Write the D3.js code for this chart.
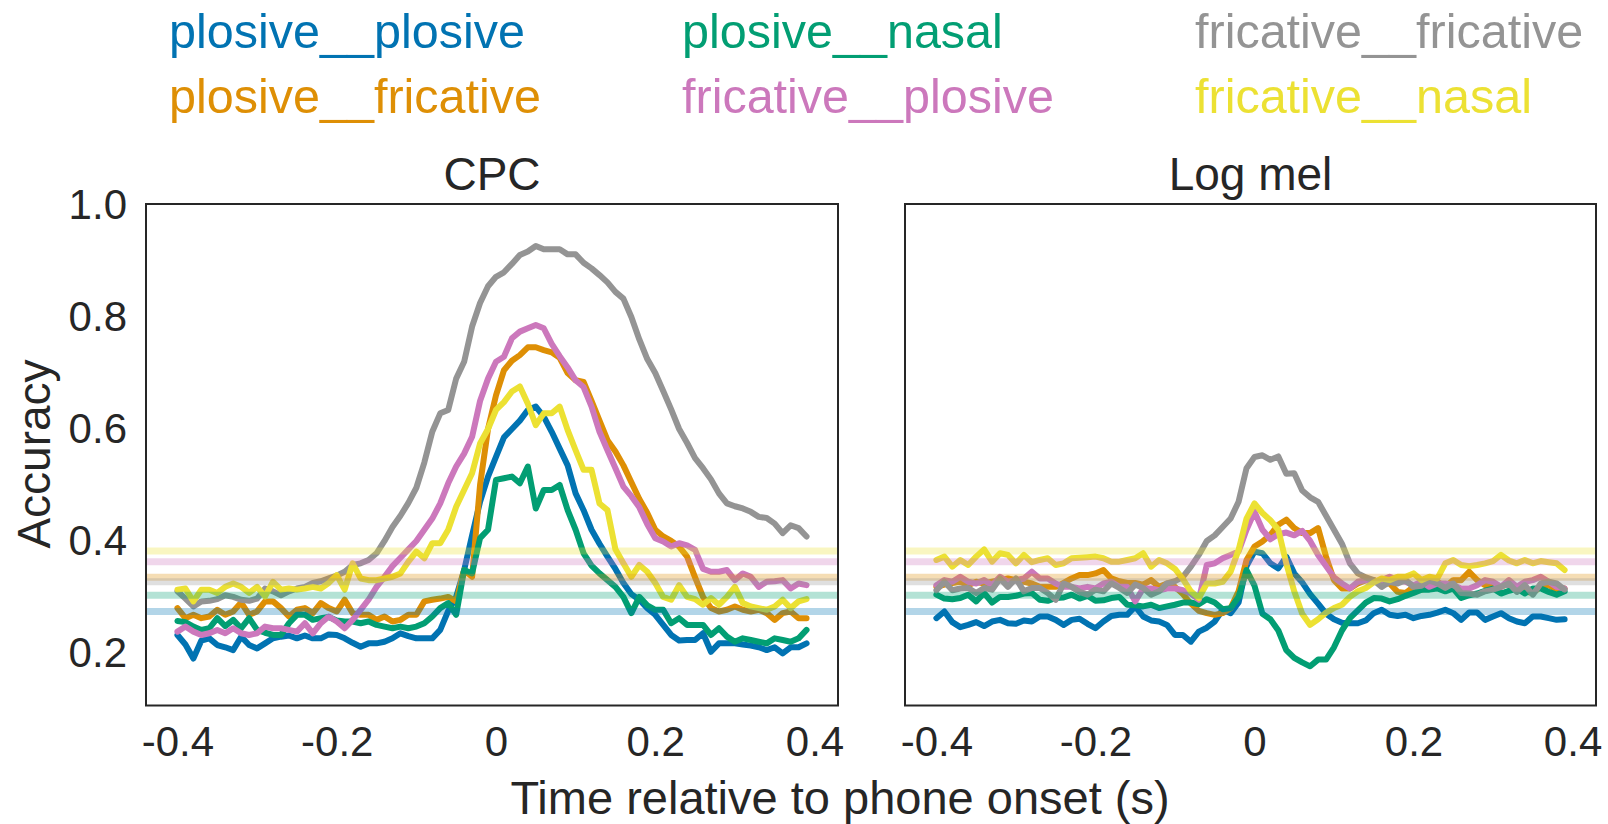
<!DOCTYPE html>
<html>
<head>
<meta charset="utf-8">
<script src="https://cdn.jsdelivr.net/npm/d3@7"></script>
<style>
  html, body { margin: 0; padding: 0; background: #fff; }
  svg text { font-family: "Liberation Sans", Arial, sans-serif; fill: #262626; }
</style>
</head>
<body>
<div id="chart"></div>
<script>
// time axis (s) relative to phone onset
const times = [
  -0.40, -0.39, -0.38, -0.37, -0.36, -0.35, -0.34, -0.33, -0.32, -0.31,
  -0.30, -0.29, -0.28, -0.27, -0.26, -0.25, -0.24, -0.23, -0.22, -0.21,
  -0.20, -0.19, -0.18, -0.17, -0.16, -0.15, -0.14, -0.13, -0.12, -0.11,
  -0.10, -0.09, -0.08, -0.07, -0.06, -0.05, -0.04, -0.03, -0.02, -0.01,
  0.00, 0.01, 0.02, 0.03, 0.04, 0.05, 0.06, 0.07, 0.08, 0.09,
  0.10, 0.11, 0.12, 0.13, 0.14, 0.15, 0.16, 0.17, 0.18, 0.19,
  0.20, 0.21, 0.22, 0.23, 0.24, 0.25, 0.26, 0.27, 0.28, 0.29,
  0.30, 0.31, 0.32, 0.33, 0.34, 0.35, 0.36, 0.37, 0.38, 0.39
];

const seriesNames = ["plosive__plosive", "plosive__fricative", "plosive__nasal",
                     "fricative__plosive", "fricative__fricative", "fricative__nasal"];
const seriesColors = ["#0173b2", "#de8f05", "#029e73", "#cc78bc", "#949494", "#ece133"];
// chance level per class pair
const chanceLevels = [0.274, 0.335, 0.303, 0.363, 0.327, 0.382];

const panelTitles = ["CPC", "Log mel"];
const xTicks = [-0.4, -0.2, 0, 0.2, 0.4];
const yTicks = [0.2, 0.4, 0.6, 0.8, 1.0];

// CPC accuracies
const cpcPlosivePlosive = [
  0.232, 0.215, 0.190, 0.222, 0.226, 0.214, 0.210, 0.205, 0.229, 0.214,
  0.208, 0.217, 0.226, 0.229, 0.231, 0.226, 0.231, 0.226, 0.226, 0.233,
  0.232, 0.226, 0.218, 0.211, 0.217, 0.217, 0.220, 0.226, 0.235, 0.230,
  0.226, 0.226, 0.226, 0.241, 0.275, 0.300, 0.348, 0.410, 0.470, 0.515,
  0.550, 0.585, 0.600, 0.615, 0.634, 0.640, 0.622, 0.595, 0.565, 0.535,
  0.485, 0.455, 0.420, 0.395, 0.372, 0.350, 0.325, 0.305, 0.295, 0.280,
  0.268, 0.250, 0.232, 0.222, 0.223, 0.223, 0.235, 0.202, 0.217, 0.217,
  0.217, 0.215, 0.213, 0.210, 0.205, 0.210, 0.199, 0.210, 0.210, 0.217
];
const cpcPlosiveFricative = [
  0.280, 0.262, 0.268, 0.262, 0.265, 0.277, 0.268, 0.274, 0.290, 0.268,
  0.274, 0.292, 0.292, 0.280, 0.265, 0.277, 0.280, 0.271, 0.289, 0.280,
  0.274, 0.295, 0.271, 0.268, 0.268, 0.259, 0.265, 0.256, 0.259, 0.268,
  0.268, 0.292, 0.295, 0.297, 0.300, 0.292, 0.348, 0.336, 0.500, 0.600,
  0.660, 0.705, 0.722, 0.732, 0.746, 0.746, 0.741, 0.737, 0.727, 0.700,
  0.687, 0.684, 0.650, 0.615, 0.580, 0.560, 0.535, 0.505, 0.475, 0.450,
  0.420, 0.408, 0.400, 0.390, 0.372, 0.335, 0.300, 0.280, 0.274, 0.277,
  0.283, 0.277, 0.274, 0.277, 0.271, 0.259, 0.271, 0.274, 0.262, 0.262
];
const cpcPlosiveNasal = [
  0.257, 0.255, 0.247, 0.241, 0.244, 0.262, 0.248, 0.259, 0.244, 0.262,
  0.241, 0.236, 0.232, 0.232, 0.253, 0.268, 0.268, 0.259, 0.262, 0.264,
  0.258, 0.256, 0.256, 0.253, 0.256, 0.250, 0.247, 0.244, 0.247, 0.244,
  0.247, 0.253, 0.265, 0.280, 0.289, 0.268, 0.348, 0.342, 0.405, 0.420,
  0.509, 0.512, 0.515, 0.503, 0.533, 0.458, 0.491, 0.491, 0.500, 0.455,
  0.420, 0.378, 0.356, 0.342, 0.330, 0.318, 0.300, 0.271, 0.300, 0.285,
  0.277, 0.277, 0.253, 0.262, 0.250, 0.250, 0.250, 0.232, 0.244, 0.229,
  0.220, 0.226, 0.223, 0.220, 0.217, 0.226, 0.223, 0.220, 0.226, 0.241
];
const cpcFricativePlosive = [
  0.238, 0.247, 0.238, 0.232, 0.235, 0.241, 0.235, 0.244, 0.235, 0.232,
  0.235, 0.247, 0.244, 0.244, 0.241, 0.238, 0.253, 0.235, 0.253, 0.265,
  0.256, 0.244, 0.259, 0.277, 0.295, 0.318, 0.336, 0.355, 0.370, 0.385,
  0.400, 0.420, 0.440, 0.467, 0.503, 0.533, 0.556, 0.586, 0.650, 0.690,
  0.720, 0.729, 0.762, 0.774, 0.780, 0.786, 0.780, 0.752, 0.730, 0.710,
  0.687, 0.675, 0.640, 0.595, 0.562, 0.530, 0.497, 0.480, 0.460, 0.430,
  0.405, 0.399, 0.390, 0.396, 0.392, 0.384, 0.350, 0.345, 0.345, 0.348,
  0.330, 0.342, 0.336, 0.318, 0.327, 0.328, 0.330, 0.315, 0.324, 0.321
];
const cpcFricativeFricative = [
  0.310, 0.297, 0.283, 0.292, 0.293, 0.296, 0.303, 0.300, 0.295, 0.293,
  0.297, 0.315, 0.310, 0.303, 0.310, 0.315, 0.318, 0.325, 0.328, 0.333,
  0.338, 0.345, 0.357, 0.360, 0.366, 0.378, 0.400, 0.425, 0.445, 0.468,
  0.495, 0.540, 0.595, 0.628, 0.634, 0.690, 0.720, 0.783, 0.825, 0.855,
  0.872, 0.880, 0.895, 0.911, 0.917, 0.927, 0.921, 0.921, 0.921, 0.912,
  0.912, 0.897, 0.887, 0.875, 0.862, 0.845, 0.833, 0.800, 0.760, 0.725,
  0.700, 0.668, 0.635, 0.600, 0.575, 0.548, 0.530, 0.510, 0.485, 0.467,
  0.462, 0.458, 0.452, 0.443, 0.441, 0.431, 0.414, 0.428, 0.423, 0.408
];
const cpcFricativeNasal = [
  0.313, 0.315, 0.292, 0.313, 0.313, 0.307, 0.318, 0.324, 0.318, 0.307,
  0.318, 0.301, 0.327, 0.313, 0.315, 0.313, 0.315, 0.318, 0.315, 0.325,
  0.339, 0.313, 0.360, 0.333, 0.330, 0.330, 0.333, 0.336, 0.342, 0.363,
  0.381, 0.369, 0.396, 0.396, 0.420, 0.461, 0.491, 0.521, 0.574, 0.600,
  0.634, 0.648, 0.667, 0.676, 0.645, 0.607, 0.628, 0.628, 0.640, 0.598,
  0.562, 0.527, 0.527, 0.467, 0.455, 0.385, 0.360, 0.336, 0.357, 0.345,
  0.325, 0.300, 0.295, 0.321, 0.300, 0.296, 0.286, 0.298, 0.286, 0.300,
  0.318, 0.289, 0.283, 0.280, 0.277, 0.283, 0.295, 0.280, 0.292, 0.296
];

// Log mel accuracies
const melPlosivePlosive = [
  0.262, 0.274, 0.255, 0.246, 0.250, 0.255, 0.248, 0.256, 0.259, 0.253,
  0.252, 0.258, 0.256, 0.265, 0.265, 0.259, 0.250, 0.259, 0.261, 0.252,
  0.244, 0.256, 0.266, 0.268, 0.268, 0.283, 0.265, 0.258, 0.256, 0.250,
  0.232, 0.232, 0.220, 0.238, 0.245, 0.256, 0.277, 0.271, 0.290, 0.355,
  0.381, 0.378, 0.360, 0.351, 0.372, 0.342, 0.326, 0.305, 0.288, 0.270,
  0.260, 0.254, 0.253, 0.253, 0.258, 0.271, 0.277, 0.268, 0.266, 0.268,
  0.262, 0.266, 0.268, 0.272, 0.277, 0.271, 0.259, 0.272, 0.272, 0.259,
  0.265, 0.271, 0.262, 0.256, 0.253, 0.265, 0.265, 0.262, 0.259, 0.260
];
const melPlosiveFricative = [
  0.318, 0.322, 0.325, 0.327, 0.321, 0.327, 0.324, 0.327, 0.330, 0.333,
  0.330, 0.327, 0.324, 0.318, 0.318, 0.318, 0.325, 0.333, 0.339, 0.339,
  0.342, 0.348, 0.333, 0.328, 0.325, 0.325, 0.322, 0.330, 0.318, 0.324,
  0.318, 0.305, 0.288, 0.275, 0.271, 0.268, 0.271, 0.280, 0.310, 0.366,
  0.390, 0.399, 0.411, 0.429, 0.438, 0.423, 0.414, 0.414, 0.423, 0.372,
  0.330, 0.315, 0.315, 0.324, 0.330, 0.330, 0.324, 0.324, 0.309, 0.307,
  0.318, 0.313, 0.318, 0.327, 0.318, 0.330, 0.330, 0.345, 0.330, 0.321,
  0.324, 0.318, 0.324, 0.315, 0.310, 0.307, 0.318, 0.321, 0.313, 0.315
];
const melPlosiveNasal = [
  0.304, 0.297, 0.296, 0.298, 0.304, 0.292, 0.307, 0.290, 0.300, 0.300,
  0.302, 0.306, 0.307, 0.295, 0.293, 0.298, 0.299, 0.304, 0.297, 0.302,
  0.293, 0.294, 0.298, 0.300, 0.286, 0.285, 0.283, 0.286, 0.280, 0.283,
  0.286, 0.290, 0.290, 0.287, 0.296, 0.290, 0.278, 0.280, 0.300, 0.348,
  0.320, 0.270, 0.260, 0.240, 0.205, 0.191, 0.183, 0.176, 0.188, 0.188,
  0.210, 0.240, 0.262, 0.276, 0.290, 0.298, 0.297, 0.292, 0.296, 0.302,
  0.307, 0.313, 0.313, 0.315, 0.310, 0.315, 0.298, 0.303, 0.306, 0.311,
  0.315, 0.306, 0.311, 0.315, 0.306, 0.315, 0.315, 0.309, 0.304, 0.310
];
const melFricativePlosive = [
  0.321, 0.330, 0.327, 0.336, 0.327, 0.324, 0.330, 0.321, 0.336, 0.327,
  0.330, 0.333, 0.345, 0.333, 0.333, 0.324, 0.318, 0.318, 0.315, 0.318,
  0.315, 0.324, 0.327, 0.318, 0.318, 0.292, 0.315, 0.315, 0.312, 0.315,
  0.315, 0.312, 0.306, 0.295, 0.357, 0.360, 0.369, 0.375, 0.381, 0.420,
  0.452, 0.420, 0.403, 0.412, 0.415, 0.410, 0.418, 0.400, 0.375, 0.355,
  0.335, 0.324, 0.315, 0.327, 0.330, 0.327, 0.330, 0.336, 0.330, 0.327,
  0.321, 0.327, 0.318, 0.324, 0.324, 0.321, 0.315, 0.315, 0.321, 0.330,
  0.327, 0.318, 0.330, 0.318, 0.327, 0.330, 0.336, 0.327, 0.318, 0.315
];
const melFricativeFricative = [
  0.312, 0.327, 0.312, 0.315, 0.316, 0.307, 0.316, 0.313, 0.333, 0.318,
  0.333, 0.310, 0.316, 0.316, 0.307, 0.295, 0.324, 0.318, 0.309, 0.304,
  0.313, 0.310, 0.324, 0.316, 0.307, 0.322, 0.316, 0.304, 0.310, 0.324,
  0.328, 0.336, 0.354, 0.375, 0.400, 0.410, 0.425, 0.440, 0.470, 0.530,
  0.550, 0.553, 0.545, 0.551, 0.520, 0.521, 0.490, 0.478, 0.470, 0.445,
  0.420, 0.395, 0.360, 0.342, 0.335, 0.330, 0.318, 0.327, 0.324, 0.330,
  0.318, 0.320, 0.330, 0.324, 0.316, 0.324, 0.307, 0.306, 0.304, 0.310,
  0.313, 0.318, 0.324, 0.309, 0.321, 0.304, 0.324, 0.327, 0.324, 0.313
];
const melFricativeNasal = [
  0.366, 0.372, 0.354, 0.366, 0.357, 0.372, 0.385, 0.363, 0.378, 0.375,
  0.360, 0.375, 0.362, 0.366, 0.369, 0.357, 0.360, 0.369, 0.370, 0.371,
  0.372, 0.369, 0.363, 0.363, 0.366, 0.369, 0.378, 0.354, 0.366, 0.360,
  0.350, 0.332, 0.310, 0.298, 0.324, 0.324, 0.327, 0.345, 0.384, 0.440,
  0.467, 0.450, 0.437, 0.420, 0.360, 0.310, 0.270, 0.250, 0.260, 0.272,
  0.280, 0.286, 0.300, 0.310, 0.316, 0.326, 0.333, 0.330, 0.336, 0.336,
  0.342, 0.330, 0.336, 0.333, 0.360, 0.366, 0.357, 0.355, 0.357, 0.360,
  0.364, 0.375, 0.365, 0.360, 0.366, 0.360, 0.364, 0.362, 0.360, 0.348
];

const panelSeries = [
  [cpcPlosivePlosive, cpcPlosiveFricative, cpcPlosiveNasal,
   cpcFricativePlosive, cpcFricativeFricative, cpcFricativeNasal],
  [melPlosivePlosive, melPlosiveFricative, melPlosiveNasal,
   melFricativePlosive, melFricativeFricative, melFricativeNasal]
];

// layout
const width = 1608, height = 824;
const panelX = [[146, 838], [905, 1596]];
const plotTop = 204, plotBottom = 705.5;

const svg = d3.select("#chart").append("svg")
    .attr("width", width)
    .attr("height", height);

const y = d3.scaleLinear()
    .domain([0.106, 1.002])
    .range([plotBottom, plotTop]);

const fmt = d => d === 0 ? "0" : d.toFixed(1);

panelTitles.forEach((title, p) => {
    const x = d3.scaleLinear()
        .domain([-0.4395, 0.4295])
        .range(panelX[p]);

    const g = svg.append("g");

    // lines
    const line = d3.line()
        .x((d, i) => x(times[i]))
        .y(d => y(d));

    g.selectAll(".series")
        .data(panelSeries[p])
        .enter().append("path")
        .attr("class", "series")
        .attr("d", d => line(d))
        .attr("fill", "none")
        .attr("stroke", (d, i) => seriesColors[i])
        .attr("stroke-width", 6)
        .attr("stroke-linejoin", "round")
        .attr("stroke-linecap", "round");

    // chance levels
    g.selectAll(".chance")
        .data(chanceLevels)
        .enter().append("line")
        .attr("class", "chance")
        .attr("x1", panelX[p][0])
        .attr("x2", panelX[p][1])
        .attr("y1", d => y(d))
        .attr("y2", d => y(d))
        .attr("stroke", (d, i) => seriesColors[i])
        .attr("stroke-width", 7)
        .attr("stroke-opacity", 0.3);

    // frame
    g.append("rect")
        .attr("x", panelX[p][0])
        .attr("y", plotTop)
        .attr("width", panelX[p][1] - panelX[p][0])
        .attr("height", plotBottom - plotTop)
        .attr("fill", "none")
        .attr("stroke", "#262626")
        .attr("stroke-width", 2);

    // x axis
    const xAxis = g.append("g")
        .attr("transform", `translate(0,${plotBottom})`)
        .call(d3.axisBottom(x).tickValues(xTicks).tickFormat(fmt).tickSize(0).tickPadding(21));
    xAxis.select(".domain").remove();
    xAxis.selectAll("text")
        .attr("fill", "#262626")
        .style("font-size", "42px")
        .style("font-family", "'Liberation Sans', Arial, sans-serif");

    // y axis only on the first panel
    if (p === 0) {
        const yAxis = g.append("g")
            .attr("transform", `translate(${panelX[p][0]},0)`)
            .call(d3.axisLeft(y).tickValues(yTicks).tickFormat(fmt).tickSize(0).tickPadding(19));
        yAxis.select(".domain").remove();
        yAxis.selectAll("text")
            .attr("fill", "#262626")
            .style("font-size", "42px")
            .style("font-family", "'Liberation Sans', Arial, sans-serif");
    }

    // title
    g.append("text")
        .attr("x", (panelX[p][0] + panelX[p][1]) / 2)
        .attr("y", 190)
        .attr("text-anchor", "middle")
        .style("font-size", "46px")
        .text(title);
});

// axis labels
svg.append("text")
    .attr("x", 840)
    .attr("y", 814)
    .attr("text-anchor", "middle")
    .style("font-size", "47px")
    .text("Time relative to phone onset (s)");

svg.append("text")
    .attr("transform", "translate(50,454) rotate(-90)")
    .attr("text-anchor", "middle")
    .style("font-size", "46px")
    .text("Accuracy");

// legend, 3 columns x 2 rows, filled column by column
const legendX = [169, 682, 1195];
const legendY = [48, 113];
svg.selectAll(".legend")
    .data(seriesNames)
    .enter().append("text")
    .attr("class", "legend")
    .attr("x", (d, i) => legendX[Math.floor(i / 2)])
    .attr("y", (d, i) => legendY[i % 2])
    .style("font-size", "48.5px")
    .style("fill", (d, i) => seriesColors[i])
    .text(d => d);
</script>
